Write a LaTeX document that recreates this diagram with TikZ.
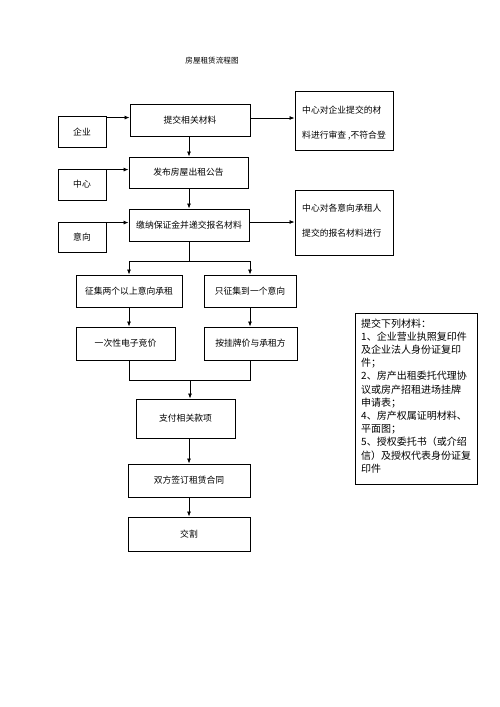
\documentclass[tikz,border=0pt]{standalone}
\usepackage{fontspec}
\usetikzlibrary{arrows.meta}
\newfontfamily\cjk{Noto Sans CJK SC}
\tikzset{
  box/.style={draw=black, line width=0.9pt, rectangle, inner sep=0pt, font=\cjk\fontsize{8.8}{10}\selectfont},
  lbl/.style={inner sep=0pt, font=\cjk\fontsize{8.8}{10}\selectfont, anchor=west},
  arr/.style={line width=0.8pt, -{Latex[length=5pt,width=4pt]}},
  ln/.style={line width=0.8pt}
}
\begin{document}
\begin{tikzpicture}[x=1pt,y=-1pt]
\useasboundingbox (0,0) rectangle (500,707);
\node[inner sep=0pt, font=\cjk\fontsize{7.6}{9}\selectfont] (title) at (212,61) {房屋租赁流程图};
% main column
\node[box, minimum width=120pt, minimum height=32pt] (sub) at (190,120) {提交相关材料};
\node[box, minimum width=119pt, minimum height=31pt] (fabu) at (188.5,172.5) {发布房屋出租公告};
\node[box, minimum width=120pt, minimum height=32pt] (jiao) at (189,225) {缴纳保证金并递交报名材料};
\node[box, minimum width=106pt, minimum height=32pt] (two) at (129,291) {征集两个以上意向承租};
\node[box, minimum width=92pt, minimum height=32pt] (one) at (250,291) {只征集到一个意向};
\node[box, minimum width=99pt, minimum height=33pt] (jing) at (125.5,343.5) {一次性电子竞价};
\node[box, minimum width=93pt, minimum height=33pt] (gua) at (250.5,343.5) {按挂牌价与承租方};
\node[box, minimum width=99pt, minimum height=39pt] (pay) at (185.5,418.5) {支付相关款项};
\node[box, minimum width=122pt, minimum height=33pt] (sign) at (189,480.5) {双方签订租赁合同};
\node[box, minimum width=122pt, minimum height=34pt] (jg) at (189,534) {交割};
% left boxes
\node[box, minimum width=48pt, minimum height=31pt] (qiye) at (82,131.5) {企业};
\node[box, minimum width=48pt, minimum height=31pt] (zx) at (82,184.5) {中心};
\node[box, minimum width=48pt, minimum height=30pt] (yx) at (82,237) {意向};
% right boxes
\node[box, minimum width=98pt, minimum height=59pt] (r1) at (344,120.5) {};
\node[lbl] (r1a) at (302,110) {中心对企业提交的材};
\node[lbl] (r1b) at (302,136) {料进行审查 ,不符合登};
\node[box, minimum width=98pt, minimum height=65pt] (r2) at (344,222.5) {};
\node[lbl] (r2a) at (302,208) {中心对各意向承租人};
\node[lbl] (r2b) at (302,233) {提交的报名材料进行};
% notes
\node[draw=black, line width=0.9pt, minimum width=122pt, minimum height=171pt, inner sep=0pt] (notes) at (416,398.5) {};
\node[inner sep=0pt, anchor=north west, align=left, font=\cjk\fontsize{10}{13.2}\selectfont] (notest) at (361,318.5) {提交下列材料：\\1、企业营业执照复印件\\及企业法人身份证复印\\件；\\2、房产出租委托代理协\\议或房产招租进场挂牌\\申请表；\\4、房产权属证明材料、\\平面图；\\5、授权委托书（或介绍\\信）及授权代表身份证复\\印件};
% connectors
\draw[arr] ([yshift=-2pt]qiye.north east) -- ([yshift=-2pt]qiye.north east -| sub.west);
\draw[arr] ([yshift=-1pt]zx.north east) -- ([yshift=-1pt]zx.north east -| fabu.west);
\draw[arr] ([yshift=-1pt]yx.north east) -- ([yshift=-1pt]yx.north east -| jiao.west);
\draw[arr] ([yshift=2pt]sub.east) -- ([yshift=2pt]sub.east -| r1.west);
\draw[arr] ([yshift=3pt]jiao.east) -- ([yshift=3pt]jiao.east -| r2.west);
\draw[arr] ([xshift=-1pt]sub.south) -- ([xshift=-1pt]sub.south |- fabu.north);
\draw[arr] (jiao.north |- fabu.south) -- (jiao.north);
\coordinate (s) at (189,261);
\draw[ln] (jiao.south) -- (s);
\draw[arr] (s) -| (two.north);
\draw[arr] (s) -| (one.north);
\draw[arr] (two.south) -- (two.south |- jing.north);
\draw[arr] (one.south) -- (one.south |- gua.north);
\coordinate (j) at (190,380);
\coordinate (jl) at (129,380);
\coordinate (jr) at (250.5,380);
\draw[ln] (two.south |- jing.south) -- (jl) -- (jr) -- (gua.south);
\draw[arr] (j) -- (j |- pay.north);
\draw[arr] (sign.north |- pay.south) -- (sign.north);
\draw[arr] (sign.south) -- (jg.north);
\end{tikzpicture}
\end{document}
